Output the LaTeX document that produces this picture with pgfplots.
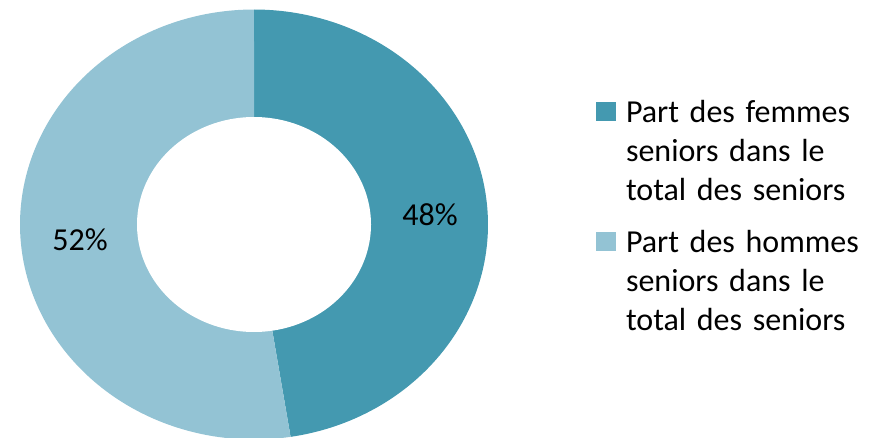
\documentclass[border=0pt]{standalone}
\usepackage{pgfplots}
\pgfplotsset{compat=1.18}
\usepackage{fontspec}
\setmainfont{Carlito}
\definecolor{cF}{HTML}{4499B0}
\definecolor{cH}{HTML}{93C3D4}
% shares (percent)
\def\pF{47.5}
\def\pH{52.5}
\begin{document}
\begin{tikzpicture}
\useasboundingbox (0,0) rectangle (888pt,437pt);
\begin{axis}[at={(0,0)}, anchor=south west, scale only axis,
  width=888pt, height=437pt, xmin=0, xmax=888, ymin=0, ymax=437,
  hide axis, clip=true,
  legend style={at={(axis cs:596,337)}, anchor=north west, draw=none, fill=none,
    inner sep=0pt, outer sep=0pt, row sep=107pt, column sep=10pt,
    font=\fontsize{32}{39}\selectfont,
    nodes={inner sep=0pt, text width=255pt, align=left, anchor=base west}},
  legend image code/.code={\fill (0pt,1.5pt) rectangle (20pt,20.5pt);},
]
\addplot[fill=cF, draw=none, domain=0:\pF, samples=150]
  ({254+234*sin(3.6*x)},{212.5+215*cos(3.6*x)}) -- (254,212.5) -- cycle;
\addlegendentry{Part des femmes\\seniors dans le\\total des seniors}
\addplot[fill=cH, draw=none, domain=\pF:100, samples=150]
  ({254+234*sin(3.6*x)},{212.5+215*cos(3.6*x)}) -- (254,212.5) -- cycle;
\addlegendentry{Part des hommes\\seniors dans le\\total des seniors}
\addplot[fill=white, draw=none, domain=0:360, samples=181, forget plot]
  ({254+117*cos(x)},{212.5+107.5*sin(x)}) -- cycle;
\node[font=\fontsize{32}{39}\selectfont] at (430,222) {48\%};
\node[font=\fontsize{32}{39}\selectfont] at (80,197) {52\%};
\end{axis}
\end{tikzpicture}
\end{document}
